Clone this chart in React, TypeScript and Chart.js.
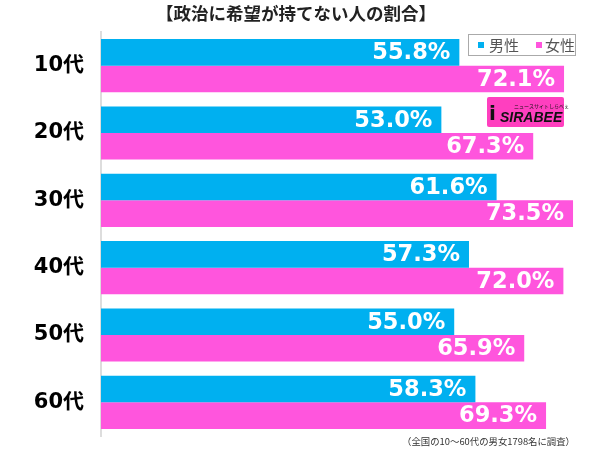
import React, { useEffect, useRef } from "react";
import { Chart, registerables } from "chart.js";

Chart.register(...registerables);

const categories = ["10代", "20代", "30代", "40代", "50代", "60代"];
const maleValues = [55.8, 53.0, 61.6, 57.3, 55.0, 58.3];
const femaleValues = [72.1, 67.3, 73.5, 72.0, 65.9, 69.3];
const seriesNames = ["男性", "女性"];
const titleText = "【政治に希望が持てない人の割合】";
const noteText = "（全国の10～60代の男女1798名に調査）";

const BLUE = "#00b0f0";
const PINK = "#ff55dd";
const CJK = "'Noto Sans CJK JP', 'DejaVu Sans', sans-serif";

const decorPlugin = {
  id: "decor",
  afterDatasetsDraw(chart: any) {
    const ctx = chart.ctx;
    ctx.save();
    // value labels
    ctx.font = "bold 22.5px 'DejaVu Sans', sans-serif";
    ctx.fillStyle = "#ffffff";
    ctx.textAlign = "right";
    ctx.textBaseline = "middle";
    chart.data.datasets.forEach((ds: any, di: number) => {
      const meta = chart.getDatasetMeta(di);
      meta.data.forEach((el: any, i: number) => {
        const v = ds.data[i];
        ctx.fillText(v.toFixed(1) + "%", el.x - 9, el.y + 1);
      });
    });
    // title
    ctx.font = "bold 17.5px " + CJK;
    ctx.fillStyle = "#222";
    ctx.textAlign = "center";
    ctx.textBaseline = "middle";
    ctx.fillText(titleText, 296, 13);
    // legend
    ctx.strokeStyle = "#aaaaaa";
    ctx.lineWidth = 1;
    ctx.fillStyle = "#ffffff";
    ctx.fillRect(468.5, 34.5, 107, 21);
    ctx.strokeRect(468.5, 34.5, 107, 21);
    ctx.font = "15px " + CJK;
    ctx.textAlign = "left";
    ctx.fillStyle = BLUE;
    ctx.fillRect(478, 42, 6, 6);
    ctx.fillStyle = "#555";
    ctx.fillText(seriesNames[0], 489, 45);
    ctx.fillStyle = PINK;
    ctx.fillRect(536, 42, 6, 6);
    ctx.fillStyle = "#555";
    ctx.fillText(seriesNames[1], 545, 45);
    // logo
    ctx.fillStyle = "#ff3fbf";
    ctx.beginPath();
    (ctx as any).roundRect ? (ctx as any).roundRect(487, 97, 77, 30, 2) : ctx.rect(487, 97, 77, 30);
    ctx.fill();
    ctx.fillStyle = "#111";
    ctx.font = "italic bold 14px 'Liberation Sans', sans-serif";
    ctx.textAlign = "left";
    ctx.fillText("SIRABEE", 500, 118);
    ctx.font = "5px " + CJK;
    ctx.fillText("ニュースサイトしらべぇ", 514, 106);
    ctx.font = "bold 20px 'DejaVu Sans', sans-serif";
    ctx.fillText("i", 489, 115);
    // footnote
    ctx.font = "9.4px " + CJK;
    ctx.fillStyle = "#333";
    ctx.textAlign = "right";
    ctx.fillText(noteText, 575, 441);
    ctx.restore();
  },
};

export default function App() {
  const ref = useRef<HTMLCanvasElement>(null);
  useEffect(() => {
    if (!ref.current) return;
    const chart = new Chart(ref.current, {
      type: "bar",
      data: {
        labels: categories,
        datasets: [
          { label: seriesNames[0], data: maleValues, backgroundColor: BLUE, borderWidth: 0, categoryPercentage: 0.79, barPercentage: 1 },
          { label: seriesNames[1], data: femaleValues, backgroundColor: PINK, borderWidth: 0, categoryPercentage: 0.79, barPercentage: 1 },
        ],
      },
      options: {
        indexAxis: "y",
        animation: false,
        responsive: false,
        devicePixelRatio: 1,
        layout: { padding: { top: 32, bottom: 13, left: 0, right: 0 } },
        plugins: { legend: { display: false }, tooltip: { enabled: false }, title: { display: false } },
        scales: {
          x: { display: false, min: 0, max: 77.7 },
          y: {
            afterFit: (s: any) => { s.width = 101; s.paddingTop = 0; s.paddingBottom = 0; },
            grid: { display: false, drawTicks: false },
            border: { display: true, color: "#dddddd", width: 2 },
            ticks: { color: "#000", padding: 17, font: { family: "'DejaVu Sans', 'Noto Sans CJK JP', sans-serif", weight: "bold", size: 21 } },
          },
        },
      },
      plugins: [decorPlugin],
    } as any);
    return () => chart.destroy();
  }, []);
  return (
    <div style={{ position: "absolute", left: 0, top: 0, width: 600, height: 449, background: "#fff" }}>
      <canvas ref={ref} width={600} height={449} style={{ width: 600, height: 449, display: "block" }} />
    </div>
  );
}
